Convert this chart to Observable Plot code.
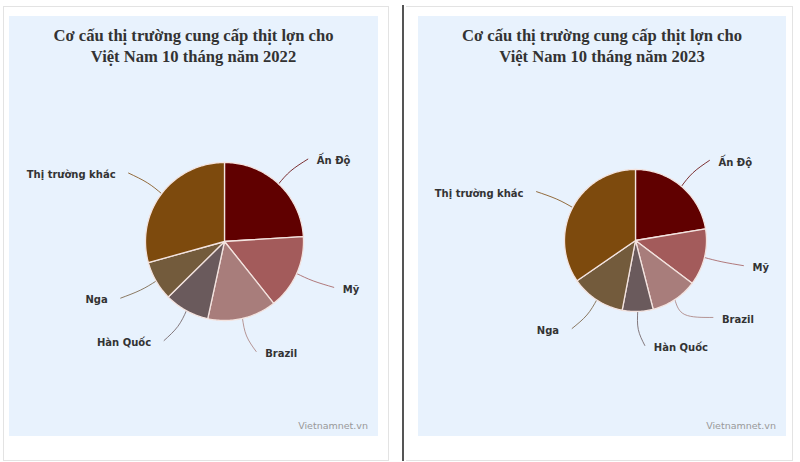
<!DOCTYPE html>
<html>
<head>
<meta charset="utf-8">
<script src="https://cdn.jsdelivr.net/npm/d3@7"></script>
<script src="https://cdn.jsdelivr.net/npm/@observablehq/plot@0.6"></script>
<style>
  html, body { margin: 0; padding: 0; background: #fff; }
  body { width: 800px; height: 462px; position: relative; overflow: hidden; }
  .frame { position: absolute; top: 6px; height: 453px; border: 1px solid #e3e3e3; background: #fff; }
  .panel { position: absolute; top: 16px; height: 420px; background: #e8f2fd; }
  .title { position: absolute; left: 0; right: 0; top: 9px; text-align: center;
    font-family: "Liberation Serif", "Times New Roman", serif; font-weight: bold;
    font-size: 16.6px; line-height: 21px; color: #333; }
  .credit { position: absolute; right: 10px; bottom: 5px; font-family: "DejaVu Sans", Verdana, sans-serif;
    font-size: 9.5px; color: #999; }
  .plot { position: absolute; left: 0; top: 0; }
  .divider { position: absolute; left: 402px; top: 5px; width: 2px; height: 456px; background: #555; }
</style>
</head>
<body>
<div class="frame" style="left:3px; width:384px;"></div>
<div class="frame" style="left:406px; width:386px; border-left:none;"></div>
<div class="divider"></div>
<div class="panel" id="p2022" style="left:9px; width:369px;">
  <div class="title">Cơ cấu thị trường cung cấp thịt lợn cho<br>Việt Nam 10 tháng năm 2022</div>
  <div class="credit">Vietnamnet.vn</div>
</div>
<div class="panel" id="p2023" style="left:418px; width:368px;">
  <div class="title">Cơ cấu thị trường cung cấp thịt lợn cho<br>Việt Nam 10 tháng năm 2023</div>
  <div class="credit">Vietnamnet.vn</div>
</div>
<script>
// ---- data ----
const categories = ["Ấn Độ", "Mỹ", "Brazil", "Hàn Quốc", "Nga", "Thị trường khác"];
const share2022 = [24.0, 15.3, 14.1, 9.2, 8.1, 29.3];
const share2023 = [22.4, 12.9, 10.7, 7.0, 12.4, 34.6];
const sliceColors = ["#600000", "#a35b5b", "#a87d7b", "#6a5a5c", "#735b3c", "#7d4a0d"];

function drawPie(containerId, values, opts) {
  const {width, height, cx, cy, r} = opts;
  const total = d3.sum(values);
  // slices clockwise from 12 o'clock, coordinates in units of the radius
  const slices = [];
  let acc = 0;
  values.forEach((v, i) => {
    const a0 = acc / total * 2 * Math.PI;
    acc += v;
    const a1 = acc / total * 2 * Math.PI;
    slices.push({name: categories[i], value: v, a0, a1, mid: (a0 + a1) / 2});
  });
  const poly = [];
  slices.forEach(s => {
    poly.push({name: s.name, x: 0, y: 0});
    const n = Math.max(4, Math.ceil((s.a1 - s.a0) / 0.02));
    for (let k = 0; k <= n; k++) {
      const a = s.a0 + (s.a1 - s.a0) * k / n;
      poly.push({name: s.name, x: Math.sin(a), y: Math.cos(a)});
    }
    poly.push({name: s.name, x: 0, y: 0});
  });
  // labels (in radius units); distance beyond the edge
  const R = 1 + 34 / r;
  const lab = slices.map(s => {
    const right = s.mid < Math.PI;
    return {name: s.name, mid: s.mid, right, y: Math.cos(s.mid) * R};
  });
  // simple collision avoidance per side: push upper labels up
  const minGap = 28 / r;
  [true, false].forEach(side => {
    const g = lab.filter(d => d.right === side).sort((a, b) => a.y - b.y); // bottom to top
    for (let i = 1; i < g.length; i++) {
      if (g[i].y - g[i - 1].y < minGap) g[i].y = g[i - 1].y + minGap;
    }
  });
  const off = 6 / r;
  const lines = [];
  lab.forEach(d => {
    const yy = Math.max(-R, Math.min(R, d.y));
    const xx = Math.sqrt(Math.max(0, R * R - yy * yy)) * (d.right ? 1 : -1);
    d.ex = xx + (d.right ? off : -off);
    d.ey = yy;
    d.tx = d.ex + (d.right ? 9 / r : -13 / r);
    const p1 = 1 + 18 / r;
    lines.push({name: d.name, x: Math.sin(d.mid), y: Math.cos(d.mid)});
    lines.push({name: d.name, x: Math.sin(d.mid) * p1, y: Math.cos(d.mid) * p1});
    lines.push({name: d.name, x: d.ex, y: d.ey});
  });
  const color = {domain: categories, range: sliceColors};
  const textStyle = {x: "tx", y: "ey", text: "name", fill: "#333", fontSize: 10, fontWeight: "bold",
    fontFamily: "DejaVu Sans, Verdana, sans-serif", dy: 2};
  const plot = Plot.plot({
    width, height,
    margin: 0,
    style: {background: "transparent", overflow: "visible"},
    x: {domain: [-cx / r, (width - cx) / r], range: [0, width], axis: null},
    y: {domain: [-(height - cy) / r, cy / r], range: [height, 0], axis: null},
    color,
    marks: [
      Plot.line(lines, {x: "x", y: "y", z: "name", stroke: "name", strokeWidth: 1, curve: "natural", strokeOpacity: 0.8}),
      Plot.line(poly, {x: "x", y: "y", z: "name", fill: "name", stroke: "#f3e3df", strokeWidth: 1.3, strokeLinejoin: "round", curve: "linear"}),
      Plot.text(lab.filter(d => d.right), {...textStyle, textAnchor: "start"}),
      Plot.text(lab.filter(d => !d.right), {...textStyle, textAnchor: "end"})
    ]
  });
  plot.classList.add("plot");
  document.getElementById(containerId).appendChild(plot);
}

drawPie("p2022", share2022, {width: 369, height: 420, cx: 215, cy: 225, r: 79});
drawPie("p2023", share2023, {width: 368, height: 420, cx: 217, cy: 224, r: 71});
</script>
</body>
</html>
